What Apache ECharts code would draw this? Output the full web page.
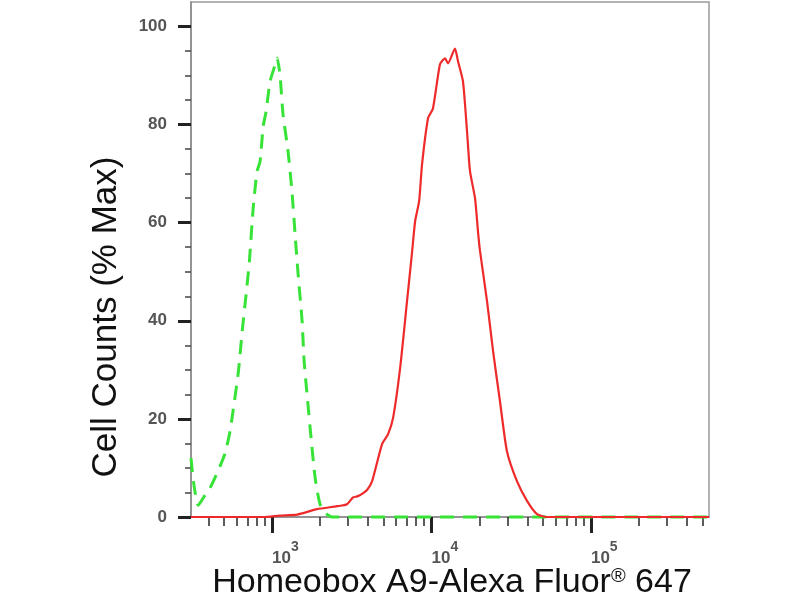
<!DOCTYPE html>
<html>
<head>
    <meta charset="utf-8">
    <title>Homeobox A9 flow histogram</title>
    <script src="https://cdn.jsdelivr.net/npm/echarts@6/dist/echarts.min.js"></script>
    <style>
        html, body { margin: 0; padding: 0; background: #fff; }
        #main { width: 800px; height: 600px; }
    </style>
</head>
<body>
<div id="main"></div>
<script type="text/javascript">
    // isotype control (green dashed)
    var greenX = [310, 322, 344, 380, 408, 458, 507, 545, 569, 615, 650, 690, 720, 761, 805, 841, 879, 917, 971, 1040,
        1075, 1122, 1172, 1260, 1335, 1394, 1456, 1542, 1588, 1657, 1757, 1862, 2000, 2200, 2380, 550000];
    var greenY = [12, 7, 2.4, 4.5, 5.9, 9.4, 13, 17.5, 21.6, 29.7, 38, 46, 52, 63, 70.5, 72.5, 79.6, 82.7, 88.8, 92,
        93.6, 90, 82, 74.5, 66, 57.6, 49.5, 40, 31.8, 25, 16, 8, 2.6, 0.6, 0, 0];

    // stained sample (red)
    var redX = [310, 880, 1120, 1435, 1914, 2557, 2950, 3220, 3420, 3670, 3940, 4240, 4900, 5340, 5740, 6350, 7020,
        7550, 7890, 8360, 8720, 9510, 10210, 11300, 12150, 12690, 14030, 14660, 15750, 16700, 17430, 18740, 19590,
        20150, 22290, 24320, 26870, 29720, 34340, 39700, 45850, 52960, 550000];
    var redY = [0, 0, 0.3, 0.5, 1.6, 2.2, 2.6, 4.0, 4.2, 4.7, 5.5, 7.3, 14.9, 16.9, 20.2, 30.3, 44,
        54, 60.3, 64.4, 71.9, 81.3, 83.3, 92.3, 93.5, 92.5, 95.5, 92.9, 88.8, 78.6, 70.5, 65, 58,
        54.2, 44, 33.8, 23.6, 13.4, 7.3, 3.3, 0.6, 0, 0];

    // ticks
    var yMajorTicks = [0, 20, 40, 60, 80, 100];
    var yMinorTicks = [5, 10, 15, 25, 30, 35, 45, 50, 55, 65, 70, 75, 85, 90, 95];
    var xMajorTicks = [1000, 10000, 100000];
    var xMinorTicks = [400, 500, 600, 700, 800, 900,
        2000, 3000, 4000, 5000, 6000, 7000, 8000, 9000,
        20000, 30000, 40000, 50000, 60000, 70000, 80000, 90000,
        200000, 300000, 400000, 500000];

    function pairs(xs, ys) {
        var out = [];
        for (var i = 0; i < xs.length; i++) {
            out.push([xs[i], ys[i]]);
        }
        return out;
    }

    var FONT = '"Liberation Sans", Arial, sans-serif';
    var xMin = 310, xMax = 550000;

    var myChart = echarts.init(document.getElementById('main'), null, {renderer: 'canvas'});

    var option = {
        backgroundColor: '#fff',
        animation: false,
        grid: {
            left: 191, right: 91, top: 2, bottom: 83,
            show: true,
            borderColor: '#9a9a9a',
            borderWidth: 1.5,
            backgroundColor: 'transparent'
        },
        xAxis: [
            {
                type: 'log',
                logBase: 10,
                min: xMin,
                max: xMax,
                axisLine: {lineStyle: {color: '#8a8a8a', width: 1.5}},
                splitLine: {show: false},
                axisTick: {
                    customValues: xMajorTicks,
                    length: 16,
                    lineStyle: {color: '#222', width: 3}
                },
                axisLabel: {
                    customValues: xMajorTicks,
                    align: 'left',
                    margin: 23,
                    formatter: function (v) {
                        return '{b|10}{s|' + Math.round(Math.log10(v)) + '}';
                    },
                    rich: {
                        b: {fontFamily: FONT, fontSize: 17, fontWeight: 'bold', color: '#555', padding: [10, 0, 0, 0]},
                        s: {fontFamily: FONT, fontSize: 14, fontWeight: 'bold', color: '#555', verticalAlign: 'top'}
                    }
                }
            },
            {
                type: 'log',
                logBase: 10,
                min: xMin,
                max: xMax,
                position: 'bottom',
                axisLine: {show: false},
                splitLine: {show: false},
                axisLabel: {show: false},
                axisTick: {
                    customValues: xMinorTicks,
                    length: 9,
                    lineStyle: {color: '#333', width: 1.6}
                }
            }
        ],
        yAxis: [
            {
                type: 'value',
                min: 0,
                max: 105,
                interval: 20,
                axisLine: {show: true, lineStyle: {color: '#8a8a8a', width: 1.5}},
                splitLine: {show: false},
                axisTick: {
                    customValues: yMajorTicks,
                    length: 13,
                    lineStyle: {color: '#222', width: 3}
                },
                axisLabel: {
                    customValues: yMajorTicks,
                    margin: 24,
                    fontFamily: FONT,
                    fontSize: 17,
                    fontWeight: 'bold',
                    color: '#555'
                }
            },
            {
                type: 'value',
                min: 0,
                max: 105,
                position: 'left',
                axisLine: {show: false},
                splitLine: {show: false},
                axisLabel: {show: false},
                axisTick: {
                    customValues: yMinorTicks,
                    length: 6,
                    lineStyle: {color: '#444', width: 1.5}
                }
            }
        ],
        graphic: [
            {
                type: 'text',
                x: 106,
                y: 317,
                rotation: Math.PI / 2,
                style: {
                    text: 'Cell Counts (% Max)',
                    font: '35px ' + FONT,
                    fill: '#111',
                    textAlign: 'center',
                    textVerticalAlign: 'middle'
                }
            },
            {
                type: 'text',
                x: 452,
                y: 583,
                style: {
                    text: 'Homeobox A9-Alexa Fluor{r|®} 647',
                    font: '34px ' + FONT,
                    fill: '#111',
                    textAlign: 'center',
                    textVerticalAlign: 'middle',
                    rich: {
                        r: {fontSize: 20, fontFamily: FONT, fill: '#111', verticalAlign: 'top'}
                    }
                }
            }
        ],
        series: [
            {
                name: 'Isotype',
                type: 'line',
                xAxisIndex: 0,
                yAxisIndex: 0,
                data: pairs(greenX, greenY),
                showSymbol: false,
                clip: false,
                smooth: 0.2,
                z: 3,
                lineStyle: {color: '#37e337', width: 3, type: [14, 9]}
            },
            {
                name: 'Homeobox A9',
                type: 'line',
                xAxisIndex: 0,
                yAxisIndex: 0,
                data: pairs(redX, redY),
                showSymbol: false,
                clip: false,
                smooth: 0.2,
                z: 4,
                lineStyle: {color: '#ee2a2a', width: 2.2}
            }
        ]
    };

    myChart.setOption(option);
</script>
</body>
</html>
